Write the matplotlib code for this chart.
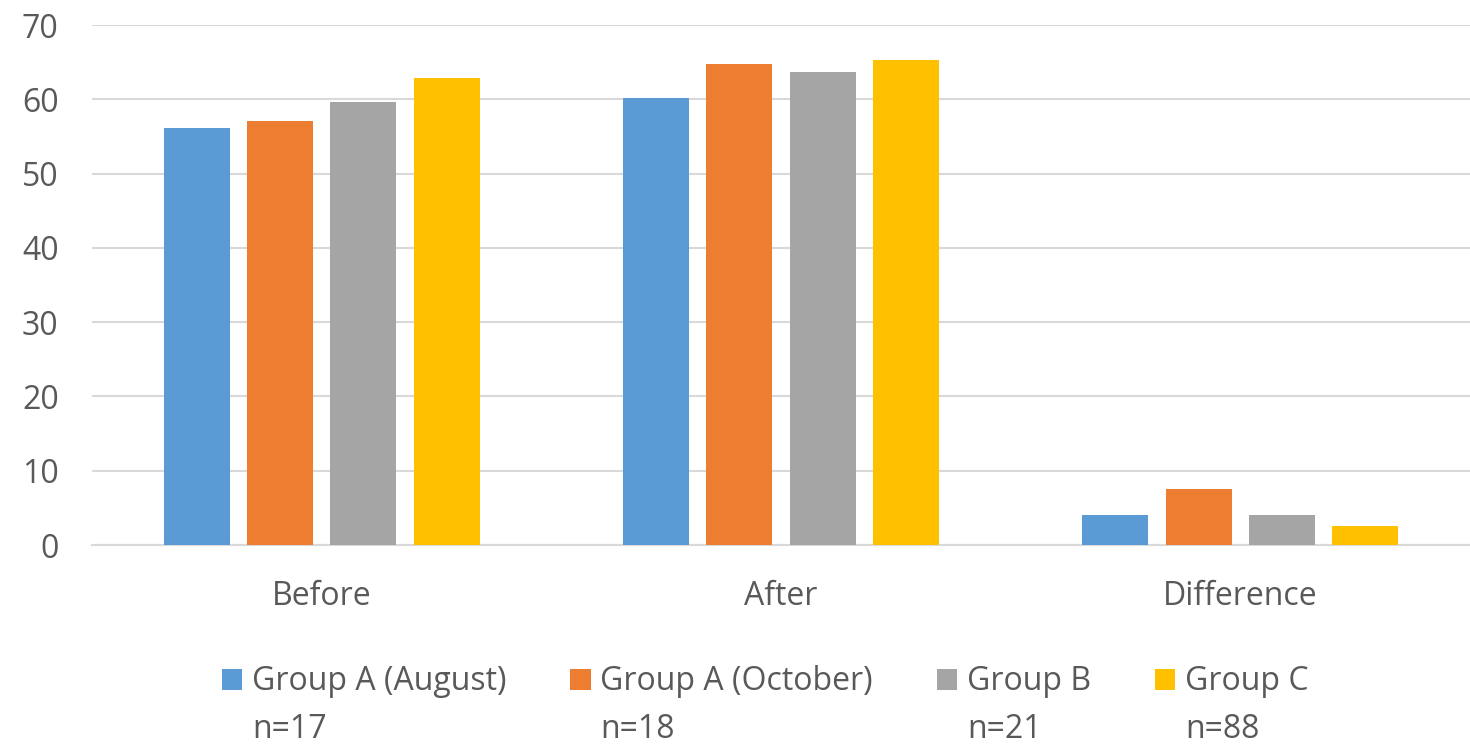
import numpy as np
import matplotlib.pyplot as plt

categories = ["Before", "After", "Difference"]
series_names = ["Group A (August)", "Group A (October)", "Group B", "Group C"]
series_n = ["n=17", "n=18", "n=21", "n=88"]
group_a_aug = [56.2, 60.2, 4.1]
group_a_oct = [57.1, 64.7, 7.6]
group_b = [59.7, 63.7, 4.1]
group_c = [62.9, 65.3, 2.6]
yticks = [0, 10, 20, 30, 40, 50, 60, 70]

colors = ["#5B9BD5", "#ED7D31", "#A5A5A5", "#FFC000"]
text_color = "#595959"
grid_color = "#D9D9D9"

plt.rcParams['font.family'] = ['Open Sans', 'DejaVu Sans']

W, H = 1470, 744
fig = plt.figure(figsize=(W / 100, H / 100), dpi=100)
ax = fig.add_axes([92 / W, 199 / H, 1378 / W, 520 / H])

x = np.arange(len(categories))
width = 0.1435
pitch = 0.1815
all_series = [group_a_aug, group_a_oct, group_b, group_c]
handles = []
for i, vals in enumerate(all_series):
    b = ax.bar(x + (i - 1.5) * pitch, vals, width, color=colors[i],
               label=series_names[i], zorder=3)
    handles.append(b)

ax.set_xlim(-0.5, 2.5)
ax.set_ylim(0, 70)
ax.set_yticks(yticks)
ax.set_xticks(x)
ax.set_xticklabels(categories)
ax.yaxis.grid(True, color=grid_color, linewidth=1.5, zorder=0)
ax.tick_params(axis='y', length=0, pad=24, labelsize=23, labelcolor=text_color)
ax.tick_params(axis='x', length=0, pad=25, labelsize=23, labelcolor=text_color)
for side in ["top", "right", "left"]:
    ax.spines[side].set_visible(False)
ax.spines["bottom"].set_color(grid_color)
ax.spines["bottom"].set_linewidth(1.5)

leg = fig.legend(handles=handles, loc="center left",
                 bbox_to_anchor=(222 / W, 1 - 682 / H),
                 ncol=4, frameon=False, fontsize=23, labelcolor=text_color,
                 borderpad=0, borderaxespad=0,
                 handlelength=0.63, handleheight=0.63, handletextpad=0.31,
                 columnspacing=2.0)

# second legend line with the group sizes, under each label
fig.canvas.draw()
inv = fig.transFigure.inverted()
for t, n in zip(leg.get_texts(), series_n):
    bb = t.get_window_extent()
    x0, y0 = inv.transform((bb.x0, bb.y0 - 47))
    fig.text(x0, y0, n, ha="left", va="bottom", fontsize=23,
             color=text_color)

fig.savefig("out.png", dpi=100)
